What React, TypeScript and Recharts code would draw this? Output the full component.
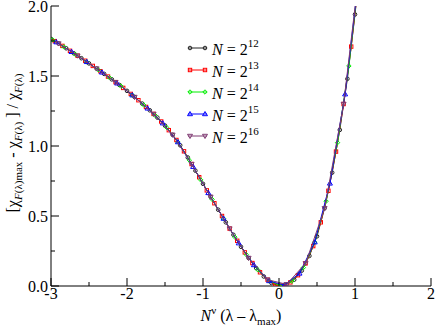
import { ScatterChart, Scatter, XAxis, YAxis } from 'recharts';

const X_TICKS = [-3, -2.5, -2, -1.5, -1, -0.5, 0, 0.5, 1, 1.5, 2];
const Y_TICKS = [0, 0.25, 0.5, 0.75, 1, 1.25, 1.5, 1.75, 2];

// N = 2^12
const n12x = [
  -3.0, -2.9, -2.8, -2.7, -2.6, -2.5, -2.4, -2.3, -2.2, -2.1, -2.0, -1.9, -1.8, -1.7,
  -1.6, -1.5, -1.4, -1.3, -1.2, -1.1, -1.0, -0.9, -0.8, -0.7, -0.6, -0.5, -0.4, -0.3,
  -0.2, -0.1, 0.0, 0.1, 0.2, 0.3, 0.4, 0.5, 0.6, 0.7, 0.8, 0.9, 1.0, 1.1,
];
const n12y = [
  1.765, 1.732, 1.698, 1.662, 1.627, 1.59, 1.553, 1.515, 1.476, 1.436, 1.394, 1.35, 1.303, 1.255,
  1.203, 1.146, 1.08, 1.005, 0.918, 0.824, 0.73, 0.637, 0.545, 0.455, 0.366, 0.28, 0.2, 0.128,
  0.068, 0.022, 0.0, 0.012, 0.045, 0.11, 0.215, 0.355, 0.555, 0.81, 1.115, 1.48, 1.94, 2.45,
];

// N = 2^13
const n13x = [
  -2.95, -2.85, -2.75, -2.65, -2.55, -2.45, -2.35, -2.25, -2.15, -2.05, -1.95, -1.85, -1.75, -1.65,
  -1.55, -1.45, -1.35, -1.25, -1.15, -1.05, -0.95, -0.85, -0.75, -0.65, -0.55, -0.45, -0.35, -0.25,
  -0.15, -0.05, 0.05, 0.15, 0.25, 0.35, 0.45, 0.55, 0.65, 0.75, 0.85, 0.95, 1.05,
];
const n13y = [
  1.749, 1.715, 1.68, 1.645, 1.609, 1.572, 1.534, 1.496, 1.456, 1.415, 1.372, 1.327, 1.279, 1.229,
  1.175, 1.113, 1.043, 0.962, 0.871, 0.777, 0.683, 0.591, 0.5, 0.41, 0.323, 0.24, 0.164, 0.098,
  0.045, 0.006, 0.003, 0.026, 0.077, 0.162, 0.285, 0.455, 0.68, 0.96, 1.3, 1.71, 2.19,
];

// N = 2^14
const n14x = [
  -2.98, -2.83, -2.68, -2.53, -2.38, -2.23, -2.08, -1.93, -1.78, -1.63, -1.48, -1.33, -1.18, -1.03,
  -0.88, -0.73, -0.58, -0.43, -0.28, -0.13, 0.02, 0.17, 0.32, 0.47, 0.62, 0.77, 0.92, 1.07,
];
const n14y = [
  1.758, 1.708, 1.655, 1.601, 1.545, 1.488, 1.428, 1.363, 1.293, 1.219, 1.133, 1.028, 0.899, 0.758,
  0.619, 0.482, 0.349, 0.224, 0.116, 0.036, 0.001, 0.035, 0.131, 0.313, 0.606, 1.024, 1.572, 2.3,
];

// N = 2^15
const n15x = [
  -2.93, -2.73, -2.53, -2.33, -2.13, -1.93, -1.73, -1.53, -1.33, -1.13, -0.93, -0.73, -0.53, -0.33,
  -0.13, 0.07, 0.27, 0.47, 0.67, 0.87, 1.07,
];
const n15y = [
  1.742, 1.673, 1.601, 1.526, 1.448, 1.363, 1.269, 1.163, 1.028, 0.852, 0.665, 0.482, 0.306, 0.15,
  0.036, 0.006, 0.09, 0.313, 0.733, 1.37, 2.3,
];

// N = 2^16
const n16x = [
  -2.9, -2.65, -2.4, -2.15, -1.9, -1.65, -1.4, -1.15, -0.9, -0.65, -0.4, -0.15, 0.1, 0.35, 0.6, 0.85,
  1.1,
];
const n16y = [
  1.732, 1.645, 1.553, 1.456, 1.35, 1.229, 1.08, 0.871, 0.637, 0.41, 0.2, 0.045, 0.012, 0.162, 0.555,
  1.3, 2.45,
];

const SERIF = "'Liberation Serif', 'DejaVu Serif', serif";
const FONT = { fontFamily: SERIF };

type Shape = 'circle' | 'square' | 'diamond' | 'up' | 'down';

const pts = (xs: number[], ys: number[]) => xs.map((x, i) => ({ x, y: ys[i] }));

const SERIES: { exp: string; data: { x: number; y: number }[]; color: string; shape: Shape }[] = [
  { exp: '12', data: pts(n12x, n12y), color: '#222222', shape: 'circle' },
  { exp: '13', data: pts(n13x, n13y), color: '#ff0000', shape: 'square' },
  { exp: '14', data: pts(n14x, n14y), color: '#00ee00', shape: 'diamond' },
  { exp: '15', data: pts(n15x, n15y), color: '#0000ff', shape: 'up' },
  { exp: '16', data: pts(n16x, n16y), color: '#7f3a72', shape: 'down' },
];

function Marker({ cx, cy, shape, color }: { cx: number; cy: number; shape: Shape; color: string }) {
  const p = { fill: 'none', stroke: color, strokeWidth: 1 };
  if (shape === 'circle') return <circle cx={cx} cy={cy} r={1.8} {...p} />;
  if (shape === 'square') return <rect x={cx - 1.7} y={cy - 1.7} width={3.4} height={3.4} {...p} />;
  if (shape === 'diamond')
    return <path d={`M${cx},${cy - 2.2}L${cx + 2.2},${cy}L${cx},${cy + 2.2}L${cx - 2.2},${cy}Z`} {...p} />;
  if (shape === 'up')
    return <path d={`M${cx},${cy - 2.5}L${cx + 2.5},${cy + 1.7}L${cx - 2.5},${cy + 1.7}Z`} {...p} />;
  return <path d={`M${cx},${cy + 2.5}L${cx + 2.5},${cy - 1.7}L${cx - 2.5},${cy - 1.7}Z`} {...p} />;
}

function BottomTick({ x, y, payload }: any) {
  const v = payload.value;
  const major = Number.isInteger(v);
  return (
    <g>
      <line x1={x} x2={x} y1={y} y2={y - (major ? 8 : 4)} stroke="#000" />
      {major && (
        <text x={x} y={y + 13} textAnchor="middle" fontSize={16} style={FONT} fill="#000">
          {String(v)}
        </text>
      )}
    </g>
  );
}

function TopTick({ x, y, payload }: any) {
  const major = Number.isInteger(payload.value);
  return <line x1={x} x2={x} y1={y} y2={y + (major ? 8 : 4)} stroke="#000" />;
}

function LeftTick({ x, y, payload }: any) {
  const v = payload.value;
  const major = Number.isInteger(v * 2);
  return (
    <g>
      <line x1={x} x2={x + (major ? 8 : 4)} y1={y} y2={y} stroke="#000" />
      {major && (
        <text x={x - 3} y={y + 5.5} textAnchor="end" fontSize={16} style={FONT} fill="#000">
          {v.toFixed(1)}
        </text>
      )}
    </g>
  );
}

function RightTick({ x, y, payload }: any) {
  const major = Number.isInteger(payload.value * 2);
  return <line x1={x} x2={x - (major ? 8 : 4)} y1={y} y2={y} stroke="#000" />;
}

export default function App() {
  return (
    <div style={{ position: 'absolute', left: 0, top: 0, width: 436, height: 330, background: '#fff' }}>
      <ScatterChart width={436} height={330} margin={{ top: 6, right: 5, bottom: 0, left: 0 }}>
        <XAxis
          dataKey="x"
          type="number"
          domain={[-3, 2]}
          ticks={X_TICKS}
          interval={0}
          allowDataOverflow
          height={44}
          tickSize={0}
          tickMargin={0}
          tickLine={false}
          tick={<BottomTick />}
          axisLine={{ stroke: '#000' }}
        />
        <XAxis
          xAxisId="top"
          orientation="top"
          type="number"
          domain={[-3, 2]}
          ticks={X_TICKS}
          interval={0}
          allowDataOverflow
          height={0}
          tickSize={0}
          tickMargin={0}
          tickLine={false}
          tick={<TopTick />}
          axisLine={{ stroke: '#000' }}
        />
        <YAxis
          dataKey="y"
          type="number"
          domain={[0, 2]}
          ticks={Y_TICKS}
          interval={0}
          allowDataOverflow
          width={51}
          tickSize={0}
          tickMargin={0}
          tickLine={false}
          tick={<LeftTick />}
          axisLine={{ stroke: '#000' }}
        />
        <YAxis
          yAxisId="right"
          orientation="right"
          type="number"
          domain={[0, 2]}
          ticks={Y_TICKS}
          interval={0}
          allowDataOverflow
          width={0}
          tickSize={0}
          tickMargin={0}
          tickLine={false}
          tick={<RightTick />}
          axisLine={{ stroke: '#000' }}
        />
        {SERIES.map((s) => (
          <Scatter
            key={s.exp}
            name={`N = 2^${s.exp}`}
            data={s.data}
            line={{ stroke: s.color, strokeWidth: 1 }}
            lineType="joint"
            isAnimationActive={false}
            shape={(p: any) => <Marker cx={p.cx} cy={p.cy} shape={s.shape} color={s.color} />}
          />
        ))}
      </ScatterChart>
      <svg
        width={436}
        height={330}
        style={{ position: 'absolute', left: 0, top: 0, pointerEvents: 'none', fontFamily: SERIF }}
      >
        {SERIES.map((s, i) => {
          const cy = 48 + i * 22;
          return (
            <g key={s.exp}>
              <line x1={188} x2={207} y1={cy} y2={cy} stroke={s.color} strokeWidth={1} />
              <Marker cx={190} cy={cy} shape={s.shape} color={s.color} />
              <Marker cx={205} cy={cy} shape={s.shape} color={s.color} />
              <text x={212} y={cy + 7} fontSize={16} fill="#000" style={FONT}>
                <tspan fontStyle="italic">N</tspan>
                <tspan> = 2</tspan>
                <tspan dy={-8} fontSize={11}>
                  {s.exp}
                </tspan>
              </text>
            </g>
          );
        })}
        <text x={241} y={321} textAnchor="middle" fontSize={16} fill="#000" style={FONT}>
          <tspan fontStyle="italic">N</tspan>
          <tspan dy={-7} fontSize={11}>
            ν
          </tspan>
          <tspan dy={7}> (λ – λ</tspan>
          <tspan dy={4} fontSize={11}>
            max
          </tspan>
          <tspan dy={-4}>)</tspan>
        </text>
        <text
          transform="translate(18,143) rotate(-90)"
          textAnchor="middle"
          fontSize={16}
          fill="#000"
          style={FONT}
        >
          <tspan>[χ</tspan>
          <tspan dy={4} fontSize={11} fontStyle="italic">
            F
          </tspan>
          <tspan fontSize={11}>(λ)max</tspan>
          <tspan dy={-4}> - χ</tspan>
          <tspan dy={4} fontSize={11} fontStyle="italic">
            F
          </tspan>
          <tspan fontSize={11}>(λ)</tspan>
          <tspan dy={-4}> ] / χ</tspan>
          <tspan dy={4} fontSize={11} fontStyle="italic">
            F
          </tspan>
          <tspan fontSize={11}>(λ)</tspan>
        </text>
      </svg>
    </div>
  );
}
